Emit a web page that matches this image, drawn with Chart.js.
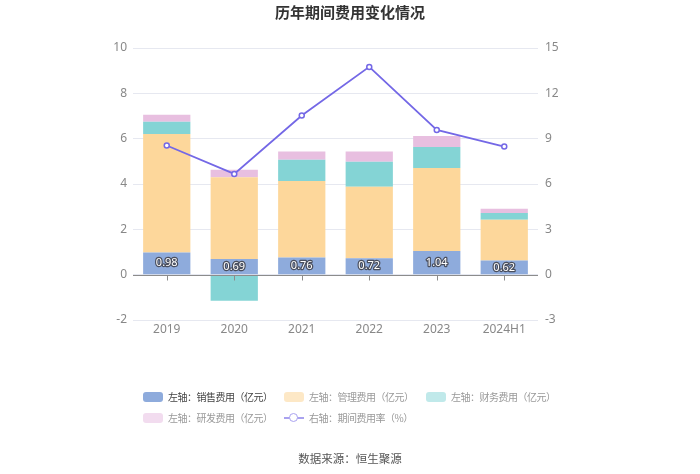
<!DOCTYPE html>
<html>
<head>
<meta charset="utf-8">
<script src="https://cdn.jsdelivr.net/npm/chart.js@4.4.1/dist/chart.umd.min.js"></script>
<style>
  html, body { margin: 0; padding: 0; background: #fff; }
  body { width: 700px; height: 474px; position: relative; overflow: hidden;
         font-family: "Noto Sans CJK SC", "Noto Sans", sans-serif; }
  #wrap { position: absolute; left: 0; top: 0; width: 700px; height: 474px; }
  #title { position: absolute; left: 0; width: 700px; top: 1px; text-align: center;
           font-size: 15px; font-weight: bold; color: #333; }
  #footer { position: absolute; left: 0; width: 700px; top: 450px; text-align: center;
            font-size: 11.5px; color: #555; }
  .lg { position: absolute; font-size: 10px; letter-spacing: -0.5px; color: #999; white-space: nowrap; line-height: 12px; }
  .sw { position: absolute; width: 20px; height: 10px; border-radius: 3px; }
</style>
</head>
<body>
<div id="wrap"><canvas id="c" width="700" height="474"></canvas></div>
<div id="title">历年期间费用变化情况</div>
<div id="footer">数据来源：恒生聚源</div>
<div id="legend"></div>
<script>
const categories = ['2019', '2020', '2021', '2022', '2023', '2024H1'];
const salesCost   = [0.98, 0.69, 0.76, 0.72, 1.04, 0.62];
const mgmtCost    = [5.23, 3.61, 3.37, 3.16, 3.67, 1.80];
const financeCost = [0.54, -1.15, 0.94, 1.10, 0.92, 0.30];
const rdCost      = [0.30, 0.33, 0.36, 0.45, 0.49, 0.19];
const expenseRate = [8.55, 6.67, 10.53, 13.75, 9.58, 8.48];
const leftTicks = [-2, 0, 2, 4, 6, 8, 10];
const rightTicks = [-3, 0, 3, 6, 9, 12, 15];
const seriesNames = ['左轴：销售费用（亿元）', '左轴：管理费用（亿元）', '左轴：财务费用（亿元）', '左轴：研发费用（亿元）', '右轴：期间费用率（%）'];

const colors = ['#8eabdc', '#fdd79b', '#84d4d5', '#e8bfe0', '#7468e6'];
const fadedColors = ['#8eabdc', '#fde8c6', '#c0e9ea', '#f2dcef', '#a9a2ef'];

// HTML legend
const legendPos = [[143, 392], [284, 392], [426, 392], [143, 413], [284, 413]];
const lg = document.getElementById('legend');
seriesNames.forEach((n, i) => {
  const [x, y] = legendPos[i];
  if (i < 4) {
    const s = document.createElement('div');
    s.className = 'sw';
    s.style.left = x + 'px'; s.style.top = y + 'px';
    s.style.background = fadedColors[i];
    lg.appendChild(s);
  } else {
    const s = document.createElement('div');
    s.style.position = 'absolute';
    s.style.left = x + 'px'; s.style.top = (y + 4) + 'px';
    s.style.width = '20px'; s.style.height = '2px'; s.style.background = fadedColors[i];
    lg.appendChild(s);
    const c = document.createElement('div');
    c.style.position = 'absolute';
    c.style.left = (x + 5) + 'px'; c.style.top = (y) + 'px';
    c.style.width = '7px'; c.style.height = '7px'; c.style.borderRadius = '50%';
    c.style.border = '1.5px solid ' + fadedColors[i]; c.style.background = '#fff';
    lg.appendChild(c);
  }
  const t = document.createElement('div');
  t.className = 'lg';
  t.style.left = (x + 25) + 'px'; t.style.top = (y - 1) + 'px';
  if (i === 0) t.style.color = '#444';
  t.textContent = n;
  lg.appendChild(t);
});

const zeroAndTicks = {
  id: 'zeroAndTicks',
  afterDatasetsDraw(chart) {
    const ctx = chart.ctx;
    const y = chart.scales.y.getPixelForValue(0);
    const xs = chart.scales.x;
    ctx.save();
    ctx.strokeStyle = '#8c8c8c';
    ctx.lineWidth = 1;
    ctx.beginPath();
    ctx.moveTo(chart.chartArea.left, Math.round(y) + 0.5);
    ctx.lineTo(chart.chartArea.right, Math.round(y) + 0.5);
    categories.forEach((c, i) => {
      const x = Math.round(xs.getPixelForValue(i)) + 0.5;
      ctx.moveTo(x, Math.round(y) + 0.5);
      ctx.lineTo(x, Math.round(y) + 5.5);
    });
    ctx.stroke();
    ctx.restore();
  }
};

const barLabels = {
  id: 'barLabels',
  afterDraw(chart) {
    const ctx = chart.ctx;
    const meta = chart.getDatasetMeta(1);
    ctx.save();
    ctx.font = '11px "Noto Sans", sans-serif';
    ctx.textAlign = 'center';
    ctx.textBaseline = 'middle';
    ctx.lineJoin = 'round';
    meta.data.forEach((el, i) => {
      const p = el.getProps(['x', 'y', 'base'], true);
      const cy = (p.y + p.base) / 2;
      const txt = salesCost[i].toFixed(2);
      ctx.strokeStyle = '#4a4f5e';
      ctx.lineWidth = 2.5;
      ctx.strokeText(txt, p.x, cy);
      ctx.fillStyle = '#fff';
      ctx.fillText(txt, p.x, cy);
    });
    ctx.restore();
  }
};

const barCommon = { stack: 's', yAxisID: 'y', categoryPercentage: 1.0, barPercentage: 0.7, borderWidth: 0 };

new Chart(document.getElementById('c'), {
  data: {
    labels: categories,
    datasets: [
      { type: 'line', label: seriesNames[4], data: expenseRate, yAxisID: 'y1', borderColor: colors[4],
        backgroundColor: '#fff', borderWidth: 1.8, pointRadius: 2.5, pointBorderWidth: 1.5,
        pointBackgroundColor: '#fff', pointBorderColor: colors[4], tension: 0, order: 0 },
      Object.assign({ type: 'bar', label: seriesNames[0], data: salesCost, backgroundColor: colors[0], order: 1 }, barCommon),
      Object.assign({ type: 'bar', label: seriesNames[1], data: mgmtCost, backgroundColor: colors[1], order: 1 }, barCommon),
      Object.assign({ type: 'bar', label: seriesNames[2], data: financeCost, backgroundColor: colors[2], order: 1 }, barCommon),
      Object.assign({ type: 'bar', label: seriesNames[3], data: rdCost, backgroundColor: colors[3], order: 1 }, barCommon)
    ]
  },
  options: {
    responsive: false,
    animation: false,
    events: [],
    layout: { padding: { top: 48, bottom: 0, left: 0, right: 0 } },
    plugins: { legend: { display: false }, tooltip: { enabled: false }, title: { display: false } },
    scales: {
      x: {
        stacked: true,
        grid: { display: false, drawTicks: false },
        border: { display: false },
        ticks: { color: '#888', font: { size: 12, family: '"Noto Sans", sans-serif' }, padding: 2 },
        afterFit(s) { s.height = 154; }
      },
      y: {
        stacked: true, position: 'left', min: -2, max: 10,
        afterBuildTicks(s) { s.ticks = leftTicks.map(v => ({ value: v })); },
        grid: { color: '#e6e8f0', drawTicks: false },
        border: { display: false },
        ticks: { color: '#888', font: { size: 12, family: '"Noto Sans", sans-serif' }, padding: 6 },
        afterFit(s) { s.width = 133; }
      },
      y1: {
        position: 'right', min: -3, max: 15,
        afterBuildTicks(s) { s.ticks = rightTicks.map(v => ({ value: v })); },
        grid: { display: false, drawTicks: false },
        border: { display: false },
        ticks: { color: '#888', font: { size: 12, family: '"Noto Sans", sans-serif' }, padding: 7 },
        afterFit(s) { s.width = 162; }
      }
    }
  },
  plugins: [zeroAndTicks, barLabels]
});
</script>
</body>
</html>
